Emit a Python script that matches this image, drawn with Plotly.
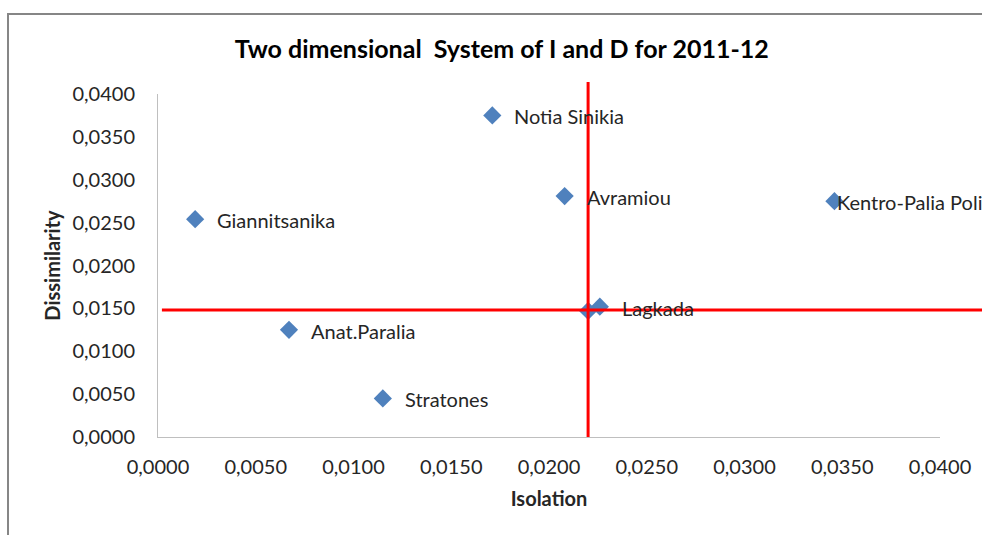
import plotly.graph_objects as go

# Isolation (x) and Dissimilarity (y) per area, 2011-12
areas = ["Notia Sinikia", "Avramiou", "Kentro-Palia Poli", "Giannitsanika",
         "Lagkada", "", "Anat.Paralia", "Stratones"]
isolation = [0.0171, 0.0208, 0.0346, 0.0019, 0.0226, 0.0220, 0.0067, 0.0115]
dissimilarity = [0.0375, 0.0281, 0.0275, 0.0254, 0.0152, 0.0147, 0.0125, 0.0045]

# mean lines
mean_isolation = 0.0220
mean_dissimilarity = 0.0148

tick_vals = [0.0, 0.005, 0.010, 0.015, 0.020, 0.025, 0.030, 0.035, 0.040]
tick_text = ["0,0000", "0,0050", "0,0100", "0,0150", "0,0200",
             "0,0250", "0,0300", "0,0350", "0,0400"]

font = "Lato, Calibri, sans-serif"
text_col = "#262626"

fig = go.Figure()

fig.add_trace(go.Scatter(
    x=isolation,
    y=dissimilarity,
    mode="markers",
    marker=dict(symbol="diamond", size=14, color="#4F81BD"),
    cliponaxis=False,
    showlegend=False,
    hoverinfo="skip",
))

# data labels to the right of each marker
for name, xv, yv in zip(areas, isolation, dissimilarity):
    if not name:
        continue
    fig.add_annotation(
        x=xv, y=yv, text=name, showarrow=False,
        xanchor="left", yanchor="middle",
        xshift=1 if name.startswith("Kentro") else 20, yshift=-1,
        font=dict(family=font, size=20, color=text_col),
    )

# quadrant lines at the means
fig.add_shape(type="line", xref="x", yref="paper",
              x0=mean_isolation, x1=mean_isolation, y0=0, y1=1.035,
              line=dict(color="#FF0000", width=3), layer="above")
fig.add_shape(type="line", xref="paper", yref="y",
              x0=0.005, x1=1.2, y0=mean_dissimilarity, y1=mean_dissimilarity,
              line=dict(color="#FF0000", width=3), layer="above")

# chart area border (left and top visible)
fig.add_shape(type="rect", xref="paper", yref="paper",
              x0=-0.1918, x1=1.3, y0=-0.5, y1=1.233,
              line=dict(color="#868686", width=2), layer="below")

fig.update_layout(
    title=dict(text="<b>Two dimensional  System of I and D for 2011-12</b>",
               x=0.511, xanchor="center", y=0.908, yanchor="middle",
               font=dict(family=font, size=25, color="#000000")),
    width=982, height=535,
    margin=dict(l=158, r=42, t=94, b=98),
    plot_bgcolor="white", paper_bgcolor="white",
    font=dict(family=font, color=text_col),
    hovermode=False,
)

fig.update_xaxes(
    range=[0, 0.04], tickvals=tick_vals, ticktext=tick_text,
    showgrid=False, zeroline=False, showline=True, linecolor="#BFBFBF", linewidth=1,
    ticks="", ticklabelstandoff=12,
    tickfont=dict(family=font, size=20, color=text_col),
    title=dict(text="<b>Isolation</b>", standoff=14,
               font=dict(family=font, size=20, color=text_col)),
)
fig.update_yaxes(
    range=[0, 0.04], tickvals=tick_vals, ticktext=tick_text,
    showgrid=False, zeroline=False, showline=True, linecolor="#BFBFBF", linewidth=1,
    ticks="", ticklabelstandoff=18,
    tickfont=dict(family=font, size=20, color=text_col),
    title=dict(text="<b>Dissimilarity</b>", standoff=6,
               font=dict(family=font, size=20, color=text_col)),
)

# drop the default page margin so the chart fills the window
fig.write_html("out.html",
               config={"displayModeBar": False},
               post_script="document.body.style.margin='0';"
                           "document.body.style.overflow='hidden';")
